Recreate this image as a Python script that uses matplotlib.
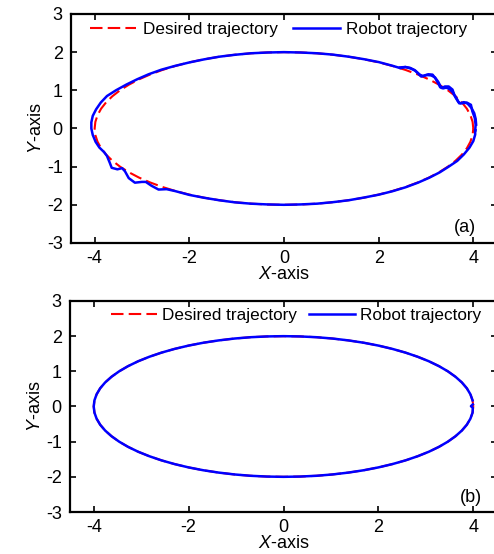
import matplotlib

matplotlib.use("Agg")
import matplotlib.pyplot as plt

plt.rcParams["font.family"] = ["Liberation Sans", "DejaVu Sans"]
plt.rcParams["mathtext.fontset"] = "custom"
plt.rcParams["mathtext.it"] = "Liberation Sans:italic"
plt.rcParams["mathtext.rm"] = "Liberation Sans"
plt.rcParams["axes.unicode_minus"] = False

# desired elliptical trajectory, read every 5 degrees
desired_x = [4.000, 3.985, 3.939, 3.864, 3.759, 3.625, 3.464, 3.277, 3.064, 2.828,
             2.571, 2.294, 2.000, 1.690, 1.368, 1.035, 0.695, 0.349, 0.000,
             -0.349, -0.695, -1.035, -1.368, -1.690, -2.000, -2.294, -2.571, -2.828,
             -3.064, -3.277, -3.464, -3.625, -3.759, -3.864, -3.939, -3.985, -4.000,
             -3.985, -3.939, -3.864, -3.759, -3.625, -3.464, -3.277, -3.064, -2.828,
             -2.571, -2.294, -2.000, -1.690, -1.368, -1.035, -0.695, -0.349, 0.000,
             0.349, 0.695, 1.035, 1.368, 1.690, 2.000, 2.294, 2.571, 2.828,
             3.064, 3.277, 3.464, 3.625, 3.759, 3.864, 3.939, 3.985, 4.000]
desired_y = [0.000, 0.174, 0.347, 0.518, 0.684, 0.845, 1.000, 1.147, 1.286, 1.414,
             1.532, 1.638, 1.732, 1.813, 1.879, 1.932, 1.970, 1.992, 2.000,
             1.992, 1.970, 1.932, 1.879, 1.813, 1.732, 1.638, 1.532, 1.414,
             1.286, 1.147, 1.000, 0.845, 0.684, 0.518, 0.347, 0.174, 0.000,
             -0.174, -0.347, -0.518, -0.684, -0.845, -1.000, -1.147, -1.286, -1.414,
             -1.532, -1.638, -1.732, -1.813, -1.879, -1.932, -1.970, -1.992, -2.000,
             -1.992, -1.970, -1.932, -1.879, -1.813, -1.732, -1.638, -1.532, -1.414,
             -1.286, -1.147, -1.000, -0.845, -0.684, -0.518, -0.347, -0.174, 0.000]

# robot trajectory, panel (a): main lap (wobbles upper right and lower left)
robot_a_x = [4.04, 4.05, 4.03, 3.98, 3.95, 3.86, 3.76, 3.70, 3.66, 3.60,
             3.56, 3.48, 3.40, 3.33, 3.30, 3.26, 3.20, 3.14, 3.05, 2.97,
             2.90, 2.84, 2.76, 2.66, 2.56, 2.46, 2.30, 2.00, 1.69, 1.37,
             1.03, 0.70, 0.35, 0.00, -0.35, -0.70, -1.04, -1.37, -1.69, -2.00,
             -2.30, -2.59, -2.86, -3.10, -3.33, -3.55, -3.74, -3.87, -3.97, -4.04,
             -4.07, -4.07, -4.04, -3.98, -3.90, -3.80, -3.74, -3.68, -3.64, -3.52,
             -3.42, -3.36, -3.28, -3.15, -3.00, -2.92, -2.80, -2.65, -2.48, -2.30,
             -2.00, -1.69, -1.37, -1.04, -0.70, -0.35, 0.00, 0.35, 0.70, 1.04,
             1.37, 1.69, 2.00, 2.29, 2.57, 2.83, 3.07, 3.29, 3.48, 3.66,
             3.80, 3.92, 4.00, 4.04, 4.04]
robot_a_y = [-0.05, 0.10, 0.28, 0.45, 0.62, 0.68, 0.66, 0.66, 0.76, 0.88,
             1.02, 1.10, 1.10, 1.06, 1.08, 1.18, 1.31, 1.41, 1.42, 1.39,
             1.36, 1.43, 1.53, 1.59, 1.61, 1.58, 1.64, 1.74, 1.815, 1.88,
             1.935, 1.97, 1.99, 2.00, 1.99, 1.97, 1.93, 1.88, 1.81, 1.73,
             1.64, 1.54, 1.42, 1.29, 1.15, 1.00, 0.85, 0.68, 0.50, 0.33,
             0.16, 0.00, -0.17, -0.35, -0.50, -0.62, -0.72, -0.90, -1.03, -1.07,
             -1.04, -1.12, -1.30, -1.42, -1.40, -1.40, -1.50, -1.60, -1.59, -1.64,
             -1.74, -1.815, -1.88, -1.935, -1.97, -1.99, -2.00, -1.99, -1.97, -1.93,
             -1.88, -1.81, -1.735, -1.645, -1.54, -1.42, -1.29, -1.15, -1.00, -0.85,
             -0.68, -0.50, -0.33, -0.16, -0.05]
# robot trajectory, panel (a): second pass over the upper right
robot_a2_x = [4.06, 4.05, 4.02, 3.96, 3.88, 3.80, 3.73, 3.68, 3.63, 3.57,
              3.50, 3.43, 3.36, 3.31, 3.26, 3.19, 3.11, 3.02, 2.94, 2.87,
              2.78, 2.68, 2.57, 2.45]
robot_a2_y = [0.10, 0.25, 0.40, 0.54, 0.65, 0.69, 0.66, 0.70, 0.80, 0.94,
              1.03, 1.07, 1.05, 1.10, 1.22, 1.34, 1.39, 1.40, 1.37, 1.41,
              1.51, 1.57, 1.61, 1.60]

# robot trajectory, panel (b): tracks the desired path, small hook at the right end
robot_b_hook_x = [3.99, 3.95, 3.99]
robot_b_hook_y = [-0.04, 0.01, 0.06]

ticks_x = [-4, -2, 0, 2, 4]
ticks_y = [-3, -2, -1, 0, 1, 2, 3]
FS = 13
FS_LEG = 12.3

robot_b_x = desired_x[1:-1] + robot_b_hook_x
robot_b_y = desired_y[1:-1] + robot_b_hook_y

fig = plt.figure(figsize=(4.94, 5.54), dpi=100)
ax_a = fig.add_axes([0.1437, 0.5614, 0.8623, 0.4134])
ax_b = fig.add_axes([0.1417, 0.0758, 0.8644, 0.3809])

panels = [
    (ax_a, [(robot_a_x, robot_a_y), (robot_a2_x, robot_a2_y)]),
    (ax_b, [(robot_b_x, robot_b_y)]),
]

for ax, robots in panels:
    ax.plot(desired_x, desired_y, color="#ff0000", lw=1.5, ls=(0, (6, 2.5)),
            label="Desired trajectory", zorder=2)
    for i, (rx, ry) in enumerate(robots):
        ax.plot(rx, ry, color="#0000ff", lw=1.8,
                label="Robot trajectory" if i == 0 else None, zorder=3)
    ax.set_xlim(-4.5, 4.5)
    ax.set_ylim(-3, 3)
    ax.set_xticks(ticks_x)
    ax.set_yticks(ticks_y)
    ax.tick_params(direction="in", length=4, width=1.2, top=True, right=True,
                   labelsize=FS)
    ax.tick_params(axis="y", pad=6)
    ax.tick_params(axis="x", pad=5)
    for s in ax.spines.values():
        s.set_linewidth(1.6)
    ax.set_xlabel(r"$X$-axis", fontsize=FS, labelpad=-1)
    ax.set_ylabel(r"$Y$-axis", fontsize=FS, labelpad=1)

# legends and panel tags
ax_a.legend(loc="center", bbox_to_anchor=(0.488, 0.934), ncol=2, frameon=False,
            fontsize=FS_LEG, handlelength=2.7, handletextpad=0.4,
            columnspacing=0.9, borderpad=0, borderaxespad=0)
ax_b.legend(loc="center", bbox_to_anchor=(0.529, 0.93), ncol=2, frameon=False,
            fontsize=FS_LEG, handlelength=2.7, handletextpad=0.3,
            columnspacing=0.7, borderpad=0, borderaxespad=0)
ax_a.text(0.925, 0.066, "(a)", transform=ax_a.transAxes, fontsize=FS,
          ha="center", va="center")
ax_b.text(0.94, 0.07, "(b)", transform=ax_b.transAxes, fontsize=FS,
          ha="center", va="center")

fig.savefig("out.png", dpi=100)
